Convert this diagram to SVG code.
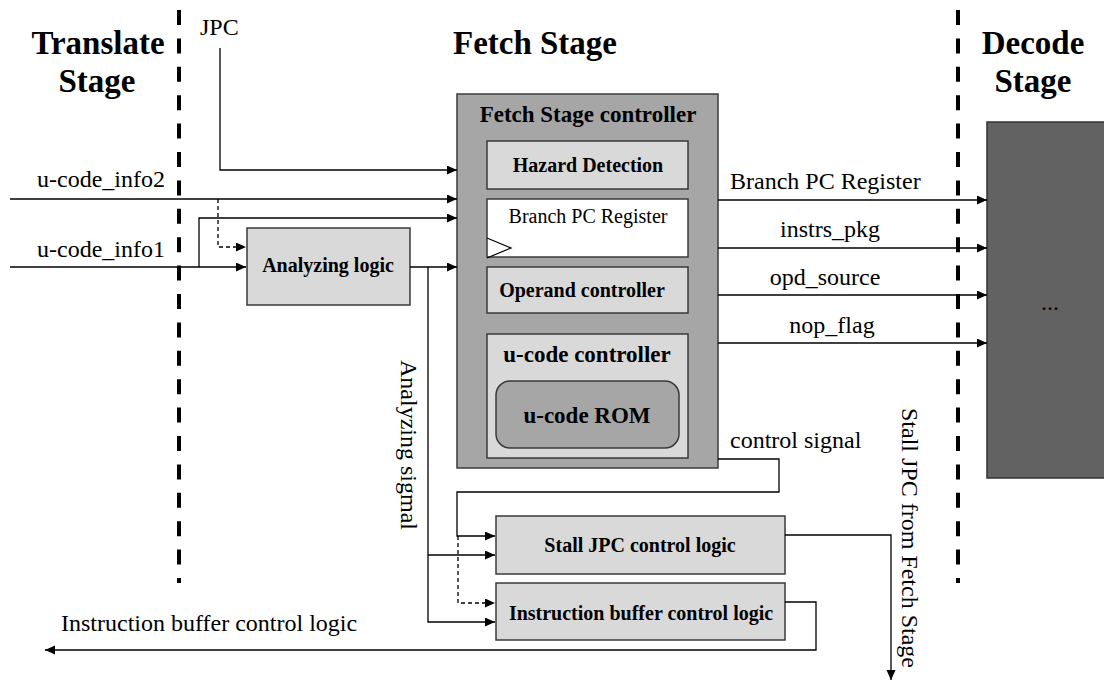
<svg xmlns="http://www.w3.org/2000/svg" width="1104" height="682" viewBox="0 0 1104 682">
<style>
.title{font-family:"Liberation Serif","Times New Roman",serif;font-weight:bold;font-size:33px;fill:#000;text-anchor:middle}
.lbl{font-family:"Liberation Serif","Times New Roman",serif;font-size:24px;fill:#000}
.bl{font-family:"Liberation Serif","Times New Roman",serif;font-weight:bold;font-size:20px;fill:#000;text-anchor:middle}
.bl2{font-family:"Liberation Serif","Times New Roman",serif;font-weight:bold;font-size:23px;fill:#000;text-anchor:middle}
.box{fill:#d9d9d9;stroke:#3a3a3a;stroke-width:1.5}
.w{fill:none;stroke:#000;stroke-width:1.3}
.dash{fill:none;stroke:#000;stroke-width:1.3;stroke-dasharray:4 3}
.stage{fill:none;stroke:#000;stroke-width:4;stroke-dasharray:15 13.4}
</style>
<defs>
<marker id="ah" markerWidth="11" markerHeight="10" refX="10" refY="4.5" orient="auto" markerUnits="userSpaceOnUse">
<path d="M0,0 L10,4.5 L0,9 z" fill="#000"/>
</marker>
</defs>
<rect width="1104" height="682" fill="#fff"/>

<g id="stage-lines">
<line class="stage" x1="179" y1="10" x2="179" y2="583"/>
<line class="stage" x1="958" y1="10" x2="958" y2="583"/>
</g>

<g id="titles">
<text class="title" x="98" y="54">Translate</text>
<text class="title" x="97" y="92">Stage</text>
<text class="title" x="535" y="54">Fetch Stage</text>
<text class="title" x="1033" y="54">Decode</text>
<text class="title" x="1033" y="92">Stage</text>
</g>

<g id="fetch-controller">
<rect x="457" y="94" width="261" height="374" fill="#a6a6a6" stroke="#3a3a3a" stroke-width="1.5"/>
<text class="bl2" x="588" y="122">Fetch Stage controller</text>
</g>
<g id="hazard-detection">
<rect class="box" x="487" y="141" width="201" height="48"/>
<text class="bl" x="588" y="172">Hazard Detection</text>
</g>
<g id="branch-pc-register">
<rect x="487" y="199" width="201" height="58" fill="#fff" stroke="#3a3a3a" stroke-width="1.5"/>
<text class="lbl" x="588" y="223" style="font-size:20px;text-anchor:middle">Branch PC Register</text>
<path d="M487,238 L511,248 L487,258" fill="none" stroke="#000" stroke-width="1.2"/>
</g>
<g id="operand-controller">
<rect class="box" x="487" y="267" width="201" height="46"/>
<text class="bl" x="582" y="297">Operand controller</text>
</g>
<g id="ucode-controller">
<rect class="box" x="487" y="334" width="201" height="124"/>
<text class="bl2" x="587" y="362">u-code controller</text>
</g>
<g id="ucode-rom">
<rect x="496" y="381" width="183" height="67" rx="14" fill="#a6a6a6" stroke="#3a3a3a" stroke-width="1.5"/>
<text class="bl2" x="587" y="423">u-code ROM</text>
</g>

<g id="analyzing-logic">
<rect class="box" x="247" y="228" width="163" height="77"/>
<text class="bl" x="328" y="272">Analyzing logic</text>
</g>

<g id="stall-jpc">
<rect class="box" x="496" y="516" width="289" height="58"/>
<text class="bl" x="640" y="552">Stall JPC control logic</text>
</g>

<g id="instr-buffer">
<rect class="box" x="496" y="583" width="289" height="57"/>
<text class="bl" x="641" y="620">Instruction buffer control logic</text>
</g>

<g id="decode">
<rect x="987" y="122" width="130" height="356" fill="#626262" stroke="#333" stroke-width="1.5"/>
<text class="lbl" x="1050" y="310" style="text-anchor:middle">...</text>
</g>

<g id="connectors">
<path class="w" d="M220,48 V170 H457" marker-end="url(#ah)"/>
<path class="w" d="M10,199 H457" marker-end="url(#ah)"/>
<path class="dash" d="M218,199 V247 H246" marker-end="url(#ah)"/>
<path class="w" d="M10,267 H246" marker-end="url(#ah)"/>
<path class="w" d="M199,267 V218 H457" marker-end="url(#ah)"/>
<path class="w" d="M410,267 H457" marker-end="url(#ah)"/>
<path class="w" d="M428,267 V622 H495" marker-end="url(#ah)"/>
<path class="w" d="M428,555 H495" marker-end="url(#ah)"/>
<path class="w" d="M718,200 H987" marker-end="url(#ah)"/>
<path class="w" d="M718,248 H987" marker-end="url(#ah)"/>
<path class="w" d="M718,295 H987" marker-end="url(#ah)"/>
<path class="w" d="M718,343 H987" marker-end="url(#ah)"/>
<path class="w" d="M718,459 H779 V492 H457 V536 H495" marker-end="url(#ah)"/>
<path class="dash" d="M458,536 V603 H495" marker-end="url(#ah)"/>
<path class="w" d="M785,535 H891 V680" marker-end="url(#ah)"/>
<path class="w" d="M785,602 H816 V650 H45" marker-end="url(#ah)"/>
</g>

<g id="labels">
<text class="lbl" x="200" y="35">JPC</text>
<text class="lbl" x="37" y="187">u-code_info2</text>
<text class="lbl" x="37" y="257">u-code_info1</text>
<text class="lbl" x="730" y="189">Branch PC Register</text>
<text class="lbl" x="830" y="237" style="text-anchor:middle">instrs_pkg</text>
<text class="lbl" x="825" y="285" style="text-anchor:middle">opd_source</text>
<text class="lbl" x="832" y="333" style="text-anchor:middle">nop_flag</text>
<text class="lbl" x="730" y="448">control signal</text>
<text class="lbl" x="61" y="631">Instruction buffer control logic</text>
<text class="lbl" transform="translate(401,360) rotate(90)">Analyzing sigmal</text>
<text class="lbl" transform="translate(902,408) rotate(90)">Stall JPC from Fetch Stage</text>
</g>
</svg>
